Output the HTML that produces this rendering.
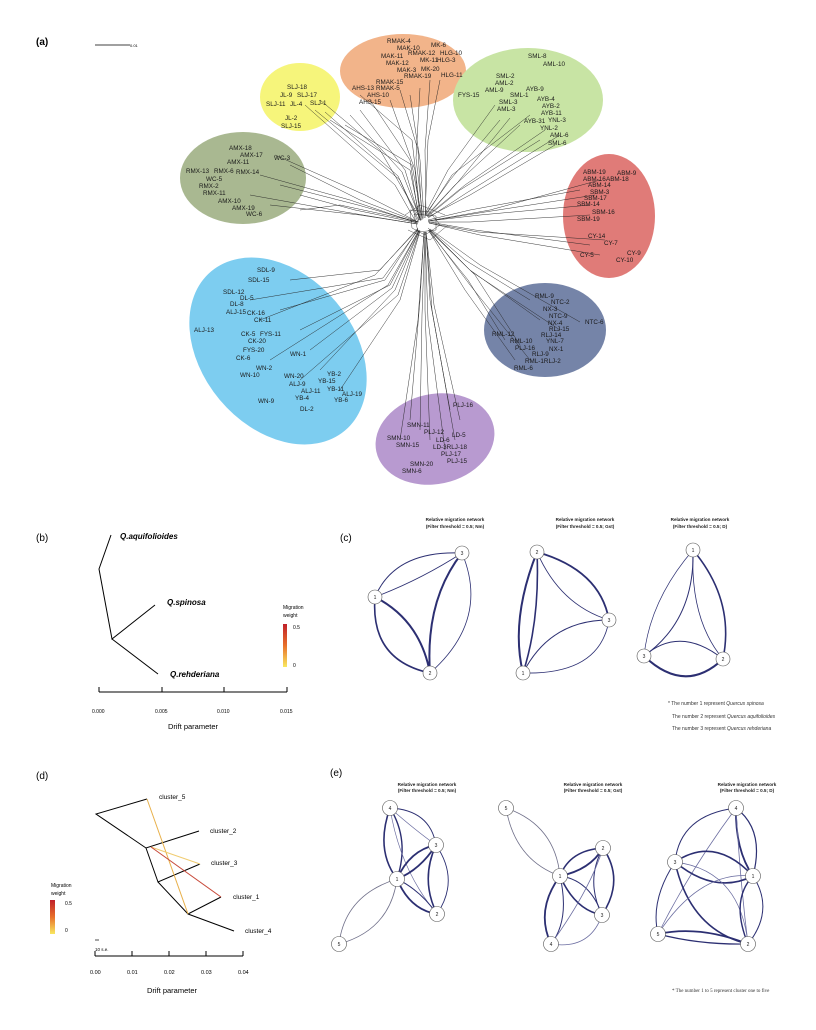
<!DOCTYPE html>
<html><head><meta charset="utf-8"><style>
html,body{margin:0;padding:0;background:#fff}
svg{display:block}
text{font-family:"Liberation Sans",sans-serif}
.l{font-size:6.3px;fill:#1a1a1a}
.t{font-size:4.6px;fill:#222;font-weight:bold}
.n{font-size:5px;fill:#222}
.fn{font-family:"Liberation Serif",serif;font-size:5px;fill:#333}
</style></head><body>
<svg width="816" height="1030" viewBox="0 0 816 1030" xmlns="http://www.w3.org/2000/svg">
<rect width="816" height="1030" fill="#fff"/>
<text x="36" y="45" font-size="10" font-weight="bold">(a)</text>
<line x1="95" y1="45" x2="130" y2="45" stroke="#000" stroke-width="0.8"/>
<text x="130" y="47" font-size="4">0.01</text>

<ellipse cx="300" cy="97" rx="40" ry="34" fill="#f6f57b"/>
<ellipse cx="403" cy="71" rx="63" ry="37" fill="#f2b48a"/>
<ellipse cx="528" cy="100" rx="75" ry="52" fill="#c8e4a4"/>
<ellipse cx="243" cy="178" rx="63" ry="46" fill="#a9b891"/>
<ellipse cx="609" cy="216" rx="46" ry="62" fill="#e07b78"/>
<ellipse cx="278" cy="351" rx="104" ry="76" transform="rotate(50 278 351)" fill="#7dcdf0"/>
<ellipse cx="545" cy="330" rx="61" ry="47" fill="#7584a8"/>
<ellipse cx="435" cy="439" rx="60" ry="45" transform="rotate(-12 435 439)" fill="#b89ad0"/>

<g stroke="#222" stroke-width="0.45" fill="none">
<path d="M420 220 L405 170 L360 110 M420 220 L410 170 L330 120 M418 222 L400 180 L315 110 M422 218 L412 165 L345 125 M416 222 L395 185 L305 105 M418 215 L380 150 L320 100"/>
<path d="M420 220 L415 170 L390 100 M422 220 L418 150 L400 90 M424 218 L420 160 L410 95 M426 216 L425 150 L430 80 M419 220 L410 160 L370 100 M421 220 L412 140 L360 95 M425 218 L428 140 L440 80"/>
<path d="M425 215 L450 180 L500 120 M426 216 L455 185 L520 125 M427 217 L460 190 L540 140 M428 217 L470 195 L555 145 M425 214 L448 170 L495 105 M426 215 L452 175 L530 115 M427 216 L465 185 L545 130"/>
<path d="M418 222 L360 200 L290 165 M418 223 L355 210 L300 195 M417 223 L350 200 L260 175 M418 224 L360 215 L270 205 M418 222 L365 195 L275 155 M419 222 L340 205 L300 210"/>
<path d="M428 220 L470 210 L580 190 M428 221 L480 215 L590 205 M428 222 L470 222 L590 215 M429 222 L475 230 L590 245 M429 223 L480 235 L600 255 M428 221 L490 210 L600 180"/>
<path d="M418 228 L380 270 L290 280 M418 229 L385 280 L280 310 M419 230 L390 285 L300 330 M419 231 L395 290 L320 370 M420 231 L400 300 L340 390 M418 229 L375 275 L260 320 M420 230 L398 295 L300 380 M419 230 L388 285 L270 360"/>
<path d="M428 228 L465 260 L530 300 M429 229 L470 270 L540 320 M429 230 L475 275 L520 345 M428 230 L468 280 L505 340 M430 229 L480 265 L580 322 M429 230 L470 285 L530 360"/>
<path d="M424 232 L420 300 L410 420 M425 232 L425 310 L430 440 M426 232 L430 300 L450 410 M425 233 L428 320 L445 450 M424 232 L418 320 L400 440 M426 232 L432 310 L455 440"/>
<path d="M421 221 L402 172 L350 115 M419 221 L398 176 L325 112 M423 219 L416 158 L420 88 M427 216 L458 182 L510 118 M428 218 L468 192 L560 135 M417 222 L358 205 L280 185 M417 224 L345 212 L250 195 M429 221 L485 212 L595 195 M429 223 L478 232 L605 240 M418 230 L383 278 L250 300 M419 231 L392 288 L310 350 M429 230 L472 272 L560 330 M429 231 L465 290 L515 360 M425 232 L422 315 L420 430 M426 232 L434 305 L460 420"/>
<path d="M410 210 L430 212 L440 225 L425 235 L412 228 Z M414 214 L436 216 L436 230 L418 232 Z M405 215 L420 205 L445 215 M408 230 L430 240 L448 225" stroke-width="0.4"/>
</g>

<g class="l">
<text x="287" y="89">SLJ-18</text><text x="280" y="97">JL-9</text><text x="297" y="97">SLJ-17</text><text x="266" y="106">SLJ-11</text><text x="290" y="106">JL-4</text><text x="310" y="105">SLJ-1</text><text x="285" y="120">JL-2</text><text x="281" y="128">SLJ-15</text>
<text x="387" y="43">RMAK-4</text><text x="397" y="50">MAK-10</text><text x="431" y="47">MK-6</text><text x="381" y="58">MAK-11</text><text x="408" y="55">RMAK-12</text><text x="440" y="55">HLG-10</text><text x="420" y="62">MK-11</text><text x="437" y="62">HLG-3</text><text x="386" y="65">MAK-12</text><text x="397" y="72">MAK-3</text><text x="421" y="71">MK-20</text><text x="404" y="78">RMAK-19</text><text x="441" y="77">HLG-11</text><text x="376" y="84">RMAK-15</text><text x="352" y="90">AHS-13</text><text x="376" y="90">RMAK-5</text><text x="367" y="97">AHS-10</text><text x="359" y="104">AHS-15</text>
<text x="528" y="58">SML-8</text><text x="543" y="66">AML-10</text><text x="496" y="78">SML-2</text><text x="495" y="85">AML-2</text><text x="485" y="92">AML-9</text><text x="526" y="91">AYB-9</text><text x="458" y="97">FYS-15</text><text x="510" y="97">SML-1</text><text x="499" y="104">SML-3</text><text x="537" y="101">AYB-4</text><text x="542" y="108">AYB-2</text><text x="497" y="111">AML-3</text><text x="541" y="115">AYB-11</text><text x="524" y="123">AYB-31</text><text x="548" y="122">YNL-3</text><text x="540" y="130">YNL-2</text><text x="550" y="137">AML-6</text><text x="548" y="145">SML-6</text>
<text x="229" y="150">AMX-18</text><text x="240" y="157">AMX-17</text><text x="274" y="160">WC-3</text><text x="227" y="164">AMX-11</text><text x="186" y="173">RMX-13</text><text x="214" y="173">RMX-6</text><text x="236" y="174">RMX-14</text><text x="206" y="181">WC-5</text><text x="199" y="188">RMX-2</text><text x="203" y="195">RMX-11</text><text x="218" y="203">AMX-10</text><text x="232" y="210">AMX-19</text><text x="246" y="216">WC-6</text>
<text x="583" y="174">ABM-19</text><text x="617" y="175">ABM-9</text><text x="583" y="181">ABM-16</text><text x="606" y="181">ABM-18</text><text x="588" y="187">ABM-14</text><text x="590" y="194">SBM-3</text><text x="584" y="200">SBM-17</text><text x="577" y="206">SBM-14</text><text x="592" y="214">SBM-16</text><text x="577" y="221">SBM-19</text><text x="588" y="238">CY-14</text><text x="604" y="245">CY-7</text><text x="580" y="257">CY-5</text><text x="627" y="255">CY-9</text><text x="616" y="262">CY-10</text>
<text x="535" y="298">RML-9</text><text x="551" y="304">NTC-2</text><text x="543" y="311">NX-3</text><text x="549" y="318">NTC-9</text><text x="585" y="324">NTC-6</text><text x="548" y="325">NX-4</text><text x="549" y="331">RLJ-15</text><text x="492" y="336">RML-12</text><text x="541" y="337">RLJ-14</text><text x="510" y="343">RML-10</text><text x="546" y="343">YNL-7</text><text x="515" y="350">PLJ-16</text><text x="549" y="351">NX-1</text><text x="532" y="356">RLJ-9</text><text x="525" y="363">RML-1RLJ-2</text><text x="514" y="370">RML-6</text>
<text x="257" y="272">SDL-9</text><text x="248" y="282">SDL-15</text><text x="223" y="294">SDL-12</text><text x="240" y="300">DL-5</text><text x="230" y="306">DL-8</text><text x="226" y="314">ALJ-15</text><text x="247" y="315">CK-16</text><text x="254" y="322">CK-11</text><text x="194" y="332">ALJ-13</text><text x="241" y="336">CK-5</text><text x="260" y="336">FYS-11</text><text x="248" y="343">CK-20</text><text x="243" y="352">FYS-20</text><text x="236" y="360">CK-6</text><text x="290" y="356">WN-1</text><text x="256" y="370">WN-2</text><text x="240" y="377">WN-10</text><text x="284" y="378">WN-20</text><text x="289" y="386">ALJ-9</text><text x="327" y="376">YB-2</text><text x="318" y="383">YB-15</text><text x="327" y="391">YB-11</text><text x="301" y="393">ALJ-11</text><text x="342" y="396">ALJ-19</text><text x="295" y="400">YB-4</text><text x="334" y="402">YB-6</text><text x="258" y="403">WN-9</text><text x="300" y="411">DL-2</text>
<text x="453" y="407">PLJ-16</text><text x="407" y="427">SMN-11</text><text x="424" y="434">PLJ-12</text><text x="452" y="437">LD-5</text><text x="387" y="440">SMN-10</text><text x="396" y="447">SMN-15</text><text x="436" y="442">LD-6</text><text x="433" y="449">LD-3RLJ-18</text><text x="441" y="456">PLJ-17</text><text x="447" y="463">PLJ-15</text><text x="410" y="466">SMN-20</text><text x="402" y="473">SMN-6</text>
</g>

<text x="36" y="541" font-size="10">(b)</text>
<g stroke="#000" stroke-width="1" fill="none">
<polyline points="111,535 99,569 112,639 155,605"/><line x1="112" y1="639" x2="158" y2="674"/>
<line x1="99" y1="692" x2="287" y2="692"/>
<line x1="99" y1="687" x2="99" y2="692"/><line x1="162" y1="687" x2="162" y2="692"/><line x1="224" y1="687" x2="224" y2="692"/><line x1="287" y1="687" x2="287" y2="692"/>
</g>
<g font-size="8" font-weight="bold" font-style="italic">
<text x="120" y="539">Q.aquifolioides</text><text x="167" y="605">Q.spinosa</text><text x="170" y="677">Q.rehderiana</text></g>
<g font-size="5"><text x="92" y="713">0.000</text><text x="155" y="713">0.005</text><text x="217" y="713">0.010</text><text x="280" y="713">0.015</text></g>
<text x="193" y="729" font-size="7.5" text-anchor="middle">Drift parameter</text>
<defs><linearGradient id="mg" x1="0" y1="0" x2="0" y2="1"><stop offset="0" stop-color="#c0202a"/><stop offset="0.5" stop-color="#e8702a"/><stop offset="1" stop-color="#f8e860"/></linearGradient></defs>
<text x="283" y="609" font-size="5">Migration</text><text x="283" y="617" font-size="5">weight</text>
<rect x="283" y="624" width="4" height="43" fill="url(#mg)"/>
<text x="293" y="629" font-size="5">0.5</text><text x="293" y="667" font-size="5">0</text>

<text x="340" y="541" font-size="10">(c)</text>
<g class="t" text-anchor="middle">
<text x="455" y="521">Relative migration network</text><text x="455" y="528">(Filter threshold = 0.5; Nm)</text>
<text x="585" y="521">Relative migration network</text><text x="585" y="528">(Filter threshold = 0.5; Gst)</text>
<text x="700" y="521">Relative migration network</text><text x="700" y="528">(Filter threshold = 0.5; D)</text>
</g>
<g fill="none" stroke="#2c2f72">
<path d="M375 597 Q395 550 462 553" stroke-width="1"/><path d="M375 597 Q420 580 462 553" stroke-width="0.8"/>
<path d="M375 597 Q420 620 430 673" stroke-width="2"/><path d="M375 597 Q370 660 430 673" stroke-width="1.6"/>
<path d="M462 553 Q425 600 430 673" stroke-width="2"/><path d="M462 553 Q490 620 430 673" stroke-width="0.8"/>
<path d="M537 552 Q510 620 523 673" stroke-width="2"/><path d="M537 552 Q540 620 523 673" stroke-width="1.6"/>
<path d="M537 552 Q600 570 609 620" stroke-width="1.8"/><path d="M537 552 Q560 605 609 620" stroke-width="0.9"/>
<path d="M523 673 Q550 620 609 620" stroke-width="1"/><path d="M523 673 Q600 675 609 620" stroke-width="0.8"/>
<path d="M693 550 Q650 600 644 656" stroke-width="0.7"/><path d="M693 550 Q695 620 644 656" stroke-width="1"/>
<path d="M693 550 Q735 600 723 659" stroke-width="1.6"/><path d="M693 550 Q690 620 723 659" stroke-width="0.8"/>
<path d="M644 656 Q680 625 723 659" stroke-width="1"/><path d="M644 656 Q685 695 723 659" stroke-width="2"/>
</g>
<g fill="#fff" stroke="#555" stroke-width="0.6">
<circle cx="462" cy="553" r="7"/><circle cx="375" cy="597" r="7"/><circle cx="430" cy="673" r="7"/>
<circle cx="537" cy="552" r="7"/><circle cx="609" cy="620" r="7"/><circle cx="523" cy="673" r="7"/>
<circle cx="693" cy="550" r="7"/><circle cx="644" cy="656" r="7"/><circle cx="723" cy="659" r="7"/>
</g>
<g class="n" text-anchor="middle">
<text x="462" y="555">3</text><text x="375" y="599">1</text><text x="430" y="675">2</text>
<text x="537" y="554">2</text><text x="609" y="622">3</text><text x="523" y="675">1</text>
<text x="693" y="552">1</text><text x="644" y="658">3</text><text x="723" y="661">2</text>
</g>
<g class="fn">
<text x="668" y="705">* The number 1 represent <tspan font-style="italic">Quercus spinosa</tspan></text>
<text x="672" y="718">The number 2 represent <tspan font-style="italic">Quercus aquifolioides</tspan></text>
<text x="672" y="730">The number 3 represent <tspan font-style="italic">Quercus rehderiana</tspan></text>
</g>

<text x="36" y="779" font-size="10">(d)</text>
<g stroke="#000" stroke-width="1" fill="none">
<polyline points="147,799 96,814 146,848 199,831"/><polyline points="146,848 158,882 200,864"/><polyline points="158,882 188,914 221,897"/><line x1="188" y1="914" x2="234" y2="931"/>
<line x1="95" y1="956" x2="243" y2="956"/>
<line x1="95" y1="951" x2="95" y2="956"/><line x1="132" y1="951" x2="132" y2="956"/><line x1="169" y1="951" x2="169" y2="956"/><line x1="206" y1="951" x2="206" y2="956"/><line x1="243" y1="951" x2="243" y2="956"/>
<line x1="95" y1="940" x2="99" y2="940" stroke-width="0.7"/>
</g>
<line x1="147" y1="799" x2="188" y2="914" stroke="#e8b04a" stroke-width="1"/>
<line x1="151" y1="847" x2="200" y2="864" stroke="#f0cc70" stroke-width="1"/>
<line x1="151" y1="847" x2="221" y2="897" stroke="#c84a3a" stroke-width="1"/>
<g font-size="6.5"><text x="159" y="799">cluster_5</text><text x="210" y="833">cluster_2</text><text x="211" y="865">cluster_3</text><text x="233" y="899">cluster_1</text><text x="245" y="933">cluster_4</text></g>
<g font-size="5.5"><text x="90" y="974">0.00</text><text x="127" y="974">0.01</text><text x="164" y="974">0.02</text><text x="201" y="974">0.03</text><text x="238" y="974">0.04</text></g>
<text x="172" y="993" font-size="7.5" text-anchor="middle">Drift parameter</text>
<text x="95" y="951" font-size="4.5">10 s.e.</text>
<text x="51" y="887" font-size="5">Migration</text><text x="51" y="895" font-size="5">weight</text>
<rect x="50" y="900" width="5" height="34" fill="url(#mg)"/>
<text x="65" y="905" font-size="5">0.5</text><text x="65" y="932" font-size="5">0</text>

<text x="330" y="776" font-size="10">(e)</text>
<g class="t" text-anchor="middle">
<text x="427" y="786">Relative migration network</text><text x="427" y="792">(Filter threshold = 0.5; Nm)</text>
<text x="593" y="786">Relative migration network</text><text x="593" y="792">(Filter threshold = 0.5; Gst)</text>
<text x="747" y="786">Relative migration network</text><text x="747" y="792">(Filter threshold = 0.5; D)</text>
</g>
<g fill="none" stroke="#2c2f72">
<path d="M390 808 Q375 850 397 879" stroke-width="1.6"/><path d="M390 808 Q410 840 397 879" stroke-width="1.4"/>
<path d="M390 808 Q430 810 436 845" stroke-width="0.9"/><path d="M390 808 Q415 830 436 845" stroke-width="0.7" stroke="#6a6ca0"/>
<path d="M390 808 Q400 870 437 914" stroke-width="0.7" stroke="#6a6ca0"/>
<path d="M436 845 Q410 850 397 879" stroke-width="1.8"/><path d="M436 845 Q420 870 397 879" stroke-width="1.8"/>
<path d="M436 845 Q420 880 437 914" stroke-width="1.6"/><path d="M436 845 Q460 880 437 914" stroke-width="0.9"/>
<path d="M397 879 Q410 910 437 914" stroke-width="1.8"/><path d="M397 879 Q420 890 437 914" stroke-width="1"/>
<path d="M397 879 Q345 895 339 944" stroke-width="0.8" stroke="#70708a"/><path d="M397 879 Q390 930 339 944" stroke-width="0.8" stroke="#70708a"/>
<path d="M506 808 Q515 860 560 876" stroke-width="0.8" stroke="#70708a"/><path d="M506 808 Q555 825 560 876" stroke-width="0.8" stroke="#70708a"/>
<path d="M560 876 Q570 850 603 848" stroke-width="1.6"/><path d="M560 876 Q590 870 603 848" stroke-width="1.8"/>
<path d="M603 848 Q625 880 602 915" stroke-width="1.6"/><path d="M603 848 Q585 880 602 915" stroke-width="1"/>
<path d="M560 876 Q575 910 602 915" stroke-width="1.6"/><path d="M560 876 Q590 880 602 915" stroke-width="1"/>
<path d="M560 876 Q535 910 551 944" stroke-width="1.8"/><path d="M560 876 Q570 920 551 944" stroke-width="1"/>
<path d="M551 944 Q590 950 602 915" stroke-width="0.8" stroke="#6a6ca0"/><path d="M551 944 Q590 890 603 848" stroke-width="0.8" stroke="#6a6ca0"/>
<path d="M736 808 Q680 815 675 862" stroke-width="1"/><path d="M736 808 Q765 830 753 876" stroke-width="1.2"/>
<path d="M736 808 Q735 850 753 876" stroke-width="1.8"/><path d="M736 808 Q690 870 658 934" stroke-width="0.8" stroke="#6a6ca0"/>
<path d="M736 808 Q740 880 748 944" stroke-width="0.8" stroke="#6a6ca0"/>
<path d="M675 862 Q715 835 753 876" stroke-width="1.6"/><path d="M675 862 Q715 895 753 876" stroke-width="1.6"/>
<path d="M675 862 Q690 930 748 944" stroke-width="1.6"/><path d="M675 862 Q650 900 658 934" stroke-width="1"/>
<path d="M675 862 Q740 870 748 944" stroke-width="0.7" stroke="#6a6ca0"/>
<path d="M753 876 Q700 870 658 934" stroke-width="0.8" stroke="#6a6ca0"/><path d="M753 876 Q775 910 748 944" stroke-width="1"/>
<path d="M753 876 Q730 900 748 944" stroke-width="1.4"/>
<path d="M658 934 Q700 925 748 944" stroke-width="1.8"/><path d="M658 934 Q700 945 748 944" stroke-width="1.2"/>
</g>
<g fill="#fff" stroke="#555" stroke-width="0.6">
<circle cx="390" cy="808" r="7.5"/><circle cx="436" cy="845" r="7.5"/><circle cx="397" cy="879" r="7.5"/><circle cx="437" cy="914" r="7.5"/><circle cx="339" cy="944" r="7.5"/>
<circle cx="506" cy="808" r="7.5"/><circle cx="603" cy="848" r="7.5"/><circle cx="560" cy="876" r="7.5"/><circle cx="602" cy="915" r="7.5"/><circle cx="551" cy="944" r="7.5"/>
<circle cx="736" cy="808" r="7.5"/><circle cx="675" cy="862" r="7.5"/><circle cx="753" cy="876" r="7.5"/><circle cx="658" cy="934" r="7.5"/><circle cx="748" cy="944" r="7.5"/>
</g>
<g class="n" text-anchor="middle">
<text x="390" y="810">4</text><text x="436" y="847">3</text><text x="397" y="881">1</text><text x="437" y="916">2</text><text x="339" y="946">5</text>
<text x="506" y="810">5</text><text x="603" y="850">2</text><text x="560" y="878">1</text><text x="602" y="917">3</text><text x="551" y="946">4</text>
<text x="736" y="810">4</text><text x="675" y="864">3</text><text x="753" y="878">1</text><text x="658" y="936">5</text><text x="748" y="946">2</text>
</g>
<text x="672" y="992" class="fn" font-size="4.5">* The number 1 to 5 represent cluster one to five</text>
</svg>
</body></html>
